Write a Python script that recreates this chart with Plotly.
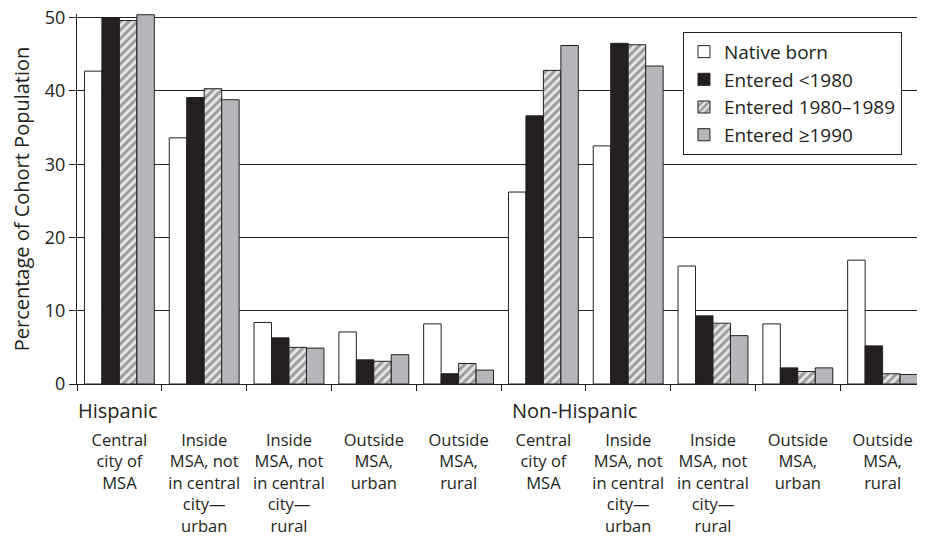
import plotly.graph_objects as go

groups = ["Hispanic", "Non-Hispanic"]
places = [
    "Central<br>city of<br>MSA",
    "Inside<br>MSA, not<br>in central<br>city—<br>urban",
    "Inside<br>MSA, not<br>in central<br>city—<br>rural",
    "Outside<br>MSA,<br>urban",
    "Outside<br>MSA,<br>rural",
]
categories = places + places

native_born = [42.7, 33.6, 8.4, 7.1, 8.2, 26.2, 32.5, 16.1, 8.2, 16.9]
entered_pre1980 = [50.0, 39.1, 6.3, 3.3, 1.4, 36.6, 46.5, 9.3, 2.2, 5.2]
entered_1980s = [49.6, 40.3, 5.0, 3.1, 2.8, 42.8, 46.3, 8.3, 1.7, 1.4]
entered_1990plus = [50.4, 38.8, 4.9, 4.0, 1.9, 46.2, 43.4, 6.6, 2.2, 1.3]

series_names = ["Native born", "Entered <1980", "Entered 1980–1989", "Entered ≥1990"]
y_ticks = [0, 10, 20, 30, 40, 50]

pos = list(range(len(categories)))
bounds = [p - 0.5 for p in pos] + [pos[-1] + 0.5]

INK = "#231f20"
FONT = "Open Sans, Arial, sans-serif"

fig = go.Figure()
fig.add_bar(x=pos, y=native_born, name=series_names[0],
            marker=dict(color="white", line=dict(color=INK, width=1)))
fig.add_bar(x=pos, y=entered_pre1980, name=series_names[1],
            marker=dict(color=INK, line=dict(color=INK, width=1)))
fig.add_bar(x=pos, y=entered_1980s, name=series_names[2],
            marker=dict(color="white", line=dict(color=INK, width=1),
                        pattern=dict(shape="/", fgcolor="#505050", bgcolor="#e6e6e6",
                                     size=6, solidity=0.5)))
fig.add_bar(x=pos, y=entered_1990plus, name=series_names[3],
            marker=dict(color="#b4b6b9", line=dict(color=INK, width=1)))

for i, g in enumerate(groups):
    fig.add_annotation(x=bounds[i * 5], y=-0.072, xref="x", yref="paper",
                       text=g, showarrow=False, xanchor="left", yanchor="middle",
                       xshift=-1 if i == 0 else 9,
                       font=dict(family=FONT, size=20, color=INK))

fig.update_layout(
    width=917, height=529,
    margin=dict(l=69, r=0, t=6, b=153),
    paper_bgcolor="white", plot_bgcolor="white",
    barmode="group", bargap=0.176, bargroupgap=0,
    font=dict(family=FONT, color=INK),
    showlegend=True,
    legend=dict(x=0.7146, y=0.952, xanchor="left", yanchor="top",
                bgcolor="white", bordercolor=INK, borderwidth=1,
                font=dict(family=FONT, size=19, color=INK),
                tracegroupgap=0, itemwidth=30),
    xaxis=dict(range=[bounds[0], bounds[-1]], tickmode="array", tickvals=pos,
               ticktext=categories, ticks="", showgrid=False, zeroline=False,
               showline=True, linecolor=INK, linewidth=1, automargin=False,
               tickfont=dict(family=FONT, size=16.5, color=INK),
               ticklabelstandoff=41, ticklabeloverflow="allow",
               minor=dict(tickmode="array", tickvals=bounds, ticks="outside",
                          ticklen=6, tickcolor=INK, tickwidth=1, showgrid=False)),
    yaxis=dict(range=[0, 50.5], tickmode="array", tickvals=y_ticks,
               ticks="outside", ticklen=7, tickcolor=INK, automargin=False,
               ticklabeloverflow="allow",
               showgrid=True, gridcolor=INK, gridwidth=1, zeroline=False,
               showline=True, linecolor=INK, linewidth=1,
               tickfont=dict(family=FONT, size=18, color=INK),
               title=dict(text="Percentage of Cohort Population", standoff=19,
                          font=dict(family=FONT, size=20, color=INK))),
)

fig.write_html("out.html")
